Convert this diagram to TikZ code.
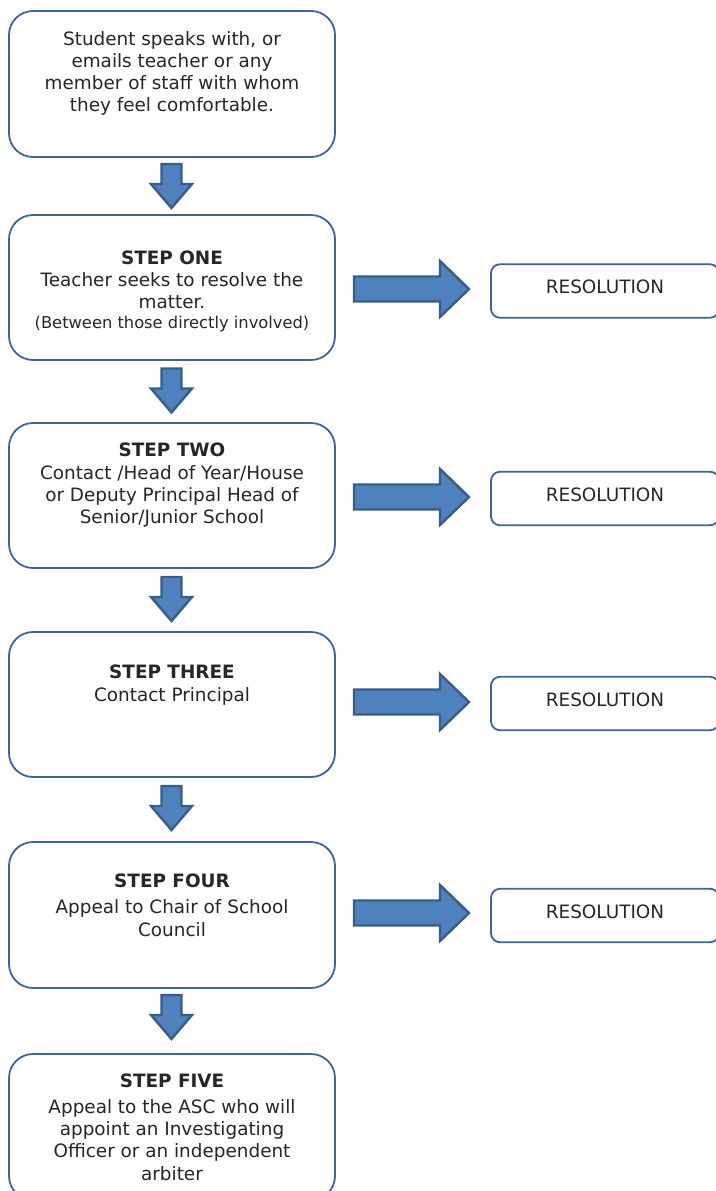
\documentclass[tikz,border=0pt]{standalone}
\usepackage{fontspec}
\setmainfont{DejaVu Sans}
\definecolor{boxc}{RGB}{62,100,158}
\definecolor{arrfill}{RGB}{79,129,189}
\definecolor{arrline}{RGB}{56,93,138}
\definecolor{textc}{RGB}{38,38,38}
\tikzset{
  box/.style={draw=boxc, line width=1.8pt, rounded corners=24pt, minimum width=326pt, inner sep=0pt, fill=white},
  resbox/.style={draw=boxc, line width=1.8pt, rounded corners=9pt, minimum width=228pt, minimum height=53.5pt, inner sep=0pt},
  txt/.style={inner sep=0pt, align=center, anchor=north, text=textc, font=\fontsize{18.4}{22}\selectfont},
  ttl/.style={inner sep=0pt, anchor=base, text=textc, font=\fontsize{18.4}{22}\selectfont\bfseries},
  restxt/.style={inner sep=0pt, anchor=base, text=textc, font=\fontsize{18.4}{22}\selectfont},
  arrowsty/.style={fill=arrfill, draw=arrline, line width=2.4pt, line join=miter},
  downarr/.pic={\draw[arrowsty] (-10,0) -- (-10,20) -- (-20.5,20) -- (0,44) -- (20.5,20) -- (10,20) -- (10,0) -- cycle;},
  rightarr/.pic={\draw[arrowsty] (0,-12.5) -- (86,-12.5) -- (86,-28) -- (115,0) -- (86,28) -- (86,12.5) -- (0,12.5) -- cycle;}
}
\newcommand{\fl}{\rule{0pt}{15pt}}
\begin{document}
\begin{tikzpicture}[x=1pt,y=-1pt]
\useasboundingbox (0,0) rectangle (715,1191);
% main boxes
\node[box, minimum height=146pt] (b0) at (172,84) {};
\node[box, minimum height=145pt] (b1) at (172,287.5) {};
\node[box, minimum height=145pt] (b2) at (172,495.5) {};
\node[box, minimum height=145pt] (b3) at (172,704.5) {};
\node[box, minimum height=146pt] (b4) at (172,915) {};
\node[box, minimum height=146pt] (b5) at (172,1127) {};
% texts
\node[txt] (t0) at (172,30) {\fl Student speaks with, or\\emails teacher or any\\member of staff with whom\\they feel comfortable.};
\node[ttl] (h1) at (172,264) {STEP ONE};
\node[txt] (t1) at (172,271) {\fl Teacher seeks to resolve the\\matter.};
\node[restxt, font=\fontsize{16.3}{20}\selectfont] (t1b) at (172,328) {(Between those directly involved)};
\node[ttl] (h2) at (172,456) {STEP TWO};
\node[txt] (t2) at (172,464) {\fl Contact /Head of Year/House\\or Deputy Principal Head of\\Senior/Junior School};
\node[ttl] (h3) at (172,678.5) {STEP THREE};
\node[txt] (t3) at (172,686) {\fl Contact Principal};
\node[ttl] (h4) at (172,887.5) {STEP FOUR};
\node[txt, font=\fontsize{18.4}{23}\selectfont] (t4) at (172,898) {\fl Appeal to Chair of School\\Council};
\node[ttl] (h5) at (172,1087) {STEP FIVE};
\node[txt, font=\fontsize{18.4}{22.3}\selectfont] (t5) at (172,1098) {\fl Appeal to the ASC who will\\appoint an Investigating\\Officer or an independent\\arbiter};
% down arrows
\pic at (171.5,164) {downarr};
\pic at (171.5,368.5) {downarr};
\pic at (171.5,577) {downarr};
\pic at (171.5,786) {downarr};
\pic at (171.5,995) {downarr};
% right arrows
\pic at (354,289) {rightarr};
\pic at (354,497) {rightarr};
\pic at (354,702) {rightarr};
\pic at (354,913) {rightarr};
% resolution boxes
\node[resbox] (r1) at (605,291) {};
\node[restxt] (r1t) at (605,293.5) {RESOLUTION};
\node[resbox] (r2) at (605,498.5) {};
\node[restxt] (r2t) at (605,501) {RESOLUTION};
\node[resbox] (r3) at (605,703.5) {};
\node[restxt] (r3t) at (605,706) {RESOLUTION};
\node[resbox] (r4) at (605,915.5) {};
\node[restxt] (r4t) at (605,918) {RESOLUTION};
\end{tikzpicture}
\end{document}
